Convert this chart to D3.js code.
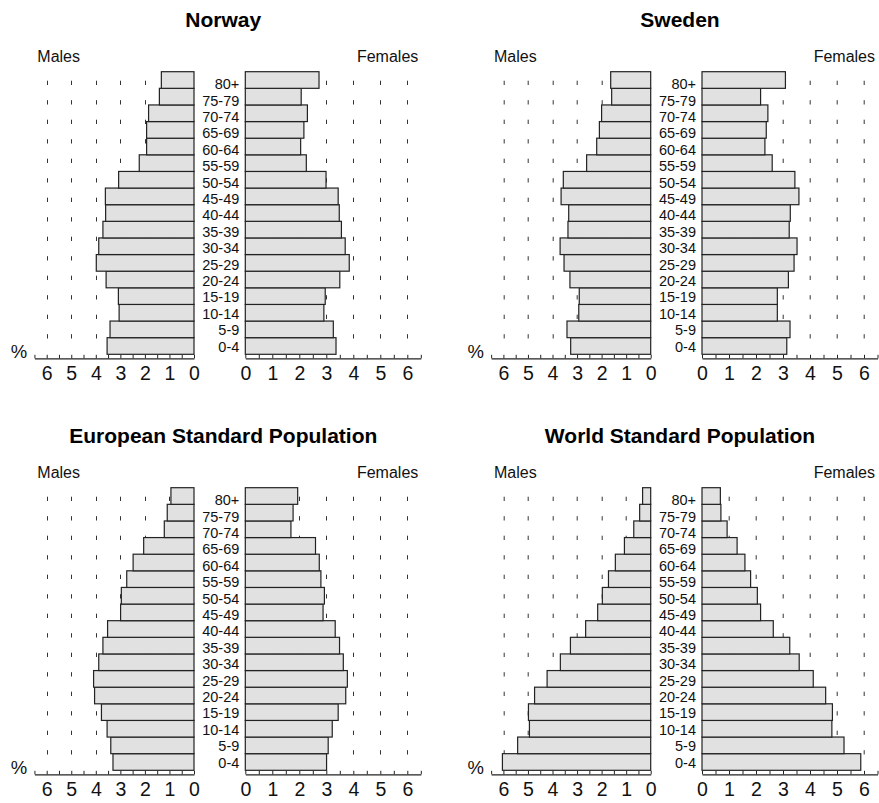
<!DOCTYPE html>
<html>
<head>
<meta charset="utf-8">
<script src="https://cdn.jsdelivr.net/npm/d3@7"></script>
<style>
  html, body { margin: 0; padding: 0; background: #fff; }
  svg { display: block; font-family: "Liberation Sans", Arial, Helvetica, sans-serif; }
</style>
</head>
<body>
<svg id="chart" width="879" height="803"></svg>
<script>
// Age groups, youngest first
const ageGroups = ["0-4", "5-9", "10-14", "15-19", "20-24", "25-29", "30-34", "35-39",
  "40-44", "45-49", "50-54", "55-59", "60-64", "65-69", "70-74", "75-79", "80+"];

// Share of total population (%) by age group
const norwayMales   = [3.54, 3.42, 3.05, 3.08, 3.58, 3.98, 3.88, 3.71, 3.60, 3.61, 3.07, 2.23, 1.93, 1.93, 1.85, 1.41, 1.33];
const norwayFemales = [3.36, 3.26, 2.91, 2.96, 3.50, 3.85, 3.70, 3.56, 3.48, 3.44, 2.99, 2.26, 2.05, 2.17, 2.30, 2.07, 2.73];
const swedenMales   = [3.26, 3.41, 2.93, 2.91, 3.29, 3.53, 3.69, 3.37, 3.34, 3.65, 3.56, 2.61, 2.20, 2.09, 2.00, 1.59, 1.63];
const swedenFemales = [3.14, 3.26, 2.79, 2.79, 3.20, 3.41, 3.52, 3.23, 3.27, 3.59, 3.44, 2.60, 2.33, 2.38, 2.44, 2.17, 3.09];
const europeMales   = [3.30, 3.39, 3.54, 3.77, 4.05, 4.09, 3.88, 3.71, 3.52, 2.99, 2.96, 2.74, 2.48, 2.05, 1.21, 1.09, 0.94];
const europeFemales = [3.01, 3.07, 3.22, 3.44, 3.72, 3.78, 3.63, 3.49, 3.33, 2.88, 2.93, 2.80, 2.74, 2.60, 1.69, 1.77, 1.94];
const worldMales    = [6.04, 5.42, 4.94, 4.98, 4.73, 4.22, 3.68, 3.27, 2.65, 2.16, 1.97, 1.72, 1.44, 1.07, 0.69, 0.45, 0.33];
const worldFemales  = [5.88, 5.26, 4.81, 4.83, 4.58, 4.12, 3.60, 3.25, 2.64, 2.17, 2.05, 1.80, 1.59, 1.30, 0.93, 0.70, 0.68];

const panelTitles = ["Norway", "Sweden", "European Standard Population", "World Standard Population"];
const sexLabels = ["Males", "Females"];
const axisMax = 6.5;
const tickLabels = [0, 1, 2, 3, 4, 5, 6];
const tickSteps = d3.range(0, axisMax + 0.01, 0.5);

const panels = [
  { title: panelTitles[0], males: norwayMales, females: norwayFemales, col: 0, row: 0 },
  { title: panelTitles[1], males: swedenMales, females: swedenFemales, col: 1, row: 0 },
  { title: panelTitles[2], males: europeMales, females: europeFemales, col: 0, row: 1 },
  { title: panelTitles[3], males: worldMales, females: worldFemales, col: 1, row: 1 }
];

const svg = d3.select("#chart");

// Layout of a single pyramid (local coordinates)
const colStep = 456.7, rowStep = 416;
const maleZero = 194, maleUnit = 24.55;
const femaleZero = 245.3, femaleUnit = 27;
const barTop = 71.7, barBottom = 354.3;
const axisY = 358.3;

const xMale = d3.scaleLinear().domain([0, axisMax]).range([maleZero, maleZero - axisMax * maleUnit]);
const xFemale = d3.scaleLinear().domain([0, axisMax]).range([femaleZero, femaleZero + axisMax * femaleUnit]);
const yBand = d3.scaleBand().domain(ageGroups.slice().reverse()).range([barTop, barBottom]).padding(0);
const yLabel = d3.scalePoint().domain(ageGroups.slice().reverse()).range([84, 346.3]);

panels.forEach(p => {
  const g = svg.append("g")
    .attr("transform", `translate(${p.col * colStep},${p.row * rowStep})`);

  // Title
  g.append("text")
    .attr("x", 223.3).attr("y", 26.7)
    .attr("text-anchor", "middle")
    .attr("font-weight", "bold")
    .attr("font-size", 21)
    .attr("fill", "#000")
    .text(p.title);

  // Sex headings
  g.append("text")
    .attr("x", 37.3).attr("y", 62.3)
    .attr("font-size", 16).attr("fill", "#111")
    .text(sexLabels[0]);
  g.append("text")
    .attr("x", 418.3).attr("y", 62.3)
    .attr("text-anchor", "end")
    .attr("font-size", 16).attr("fill", "#111")
    .text(sexLabels[1]);

  // Dashed reference lines at whole percentages
  const gridVals = [1, 2, 3, 4, 5, 6];
  const grid = g.append("g")
    .attr("stroke", "#333")
    .attr("stroke-width", 1)
    .attr("stroke-dasharray", "4.3 15.2");
  grid.selectAll("line.m").data(gridVals).join("line")
    .attr("class", "m")
    .attr("x1", d => Math.round(xMale(d)) + 0.5).attr("x2", d => Math.round(xMale(d)) + 0.5)
    .attr("y1", 80.7).attr("y2", 338.5);
  grid.selectAll("line.f").data(gridVals).join("line")
    .attr("class", "f")
    .attr("x1", d => Math.round(xFemale(d)) + 0.5).attr("x2", d => Math.round(xFemale(d)) + 0.5)
    .attr("y1", 80.7).attr("y2", 338.5);

  // Bars
  const maleRows = ageGroups.map((a, i) => ({ age: a, v: p.males[i] }));
  const femaleRows = ageGroups.map((a, i) => ({ age: a, v: p.females[i] }));

  g.append("g").selectAll("rect").data(maleRows).join("rect")
    .attr("x", d => xMale(d.v))
    .attr("y", d => yBand(d.age))
    .attr("width", d => xMale(0) - xMale(d.v))
    .attr("height", yBand.bandwidth())
    .attr("fill", "#e1e1e1")
    .attr("stroke", "#222")
    .attr("stroke-width", 1.2);

  g.append("g").selectAll("rect").data(femaleRows).join("rect")
    .attr("x", xFemale(0))
    .attr("y", d => yBand(d.age))
    .attr("width", d => xFemale(d.v) - xFemale(0))
    .attr("height", yBand.bandwidth())
    .attr("fill", "#e1e1e1")
    .attr("stroke", "#222")
    .attr("stroke-width", 1.2);

  // Age-group labels
  g.append("g").selectAll("text").data(ageGroups).join("text")
    .attr("x", 239.3)
    .attr("y", d => yLabel(d))
    .attr("dy", "0.36em")
    .attr("text-anchor", "end")
    .attr("font-size", 14.5)
    .attr("fill", "#111")
    .text(d => d);

  // Percentage axes
  const fmt = d => Number.isInteger(d) && tickLabels.includes(d) ? String(d) : "";
  const axisM = d3.axisBottom(xMale).tickValues(tickSteps).tickFormat(fmt)
    .tickSizeInner(-3.5).tickSizeOuter(0).tickPadding(8.3);
  const axisF = d3.axisBottom(xFemale).tickValues(tickSteps).tickFormat(fmt)
    .tickSizeInner(-3.5).tickSizeOuter(0).tickPadding(8.3);

  [axisM, axisF].forEach(ax => {
    const a = g.append("g")
      .attr("transform", `translate(0,${axisY})`)
      .call(ax);
    a.select(".domain").attr("stroke", "#222").attr("stroke-width", 1.3);
    a.selectAll(".tick line").attr("stroke", "#222").attr("stroke-width", 1);
    a.selectAll(".tick text")
      .attr("font-size", 19.5)
      .attr("font-family", "\"Liberation Sans\", Arial, sans-serif")
      .attr("fill", "#111");
  });

  // Unit marker
  g.append("text")
    .attr("x", 10.7).attr("y", axisY)
    .attr("font-size", 18.5).attr("fill", "#111")
    .text("%");
});
</script>
</body>
</html>
